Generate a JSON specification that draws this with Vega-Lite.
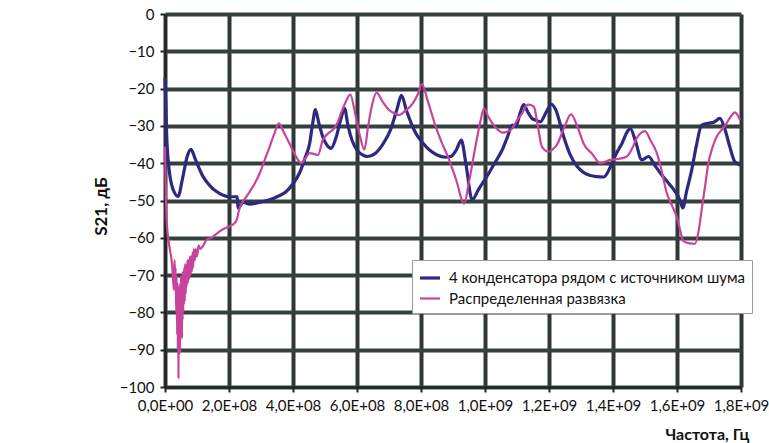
{
  "$schema": "https://vega.github.io/schema/vega-lite/v6.json",
  "width": 576,
  "height": 373,
  "autosize": {"type": "none"},
  "padding": {"left": 165, "top": 14, "right": 28, "bottom": 56},
  "config": {
    "font": "Lato",
    "view": {"stroke": null, "fill": null},
    "legend": {
      "orient": "none",
      "legendX": 247,
      "legendY": 246,
      "padding": 6,
      "strokeColor": "#9a9a9a",
      "fillColor": "white",
      "symbolType": "stroke",
      "symbolSize": 400,
      "symbolStrokeWidth": 3,
      "labelFont": "Lato",
      "labelFontSize": 15,
      "labelColor": "#111",
      "labelLimit": 400,
      "labelOffset": 7,
      "rowPadding": 1
    }
  },
  "data": {
    "values": [
      {"s": "4 конденсатора рядом с источником шума", "f": 0.00e8, "v": -17},
      {"s": "4 конденсатора рядом с источником шума", "f": 0.02e8, "v": -22},
      {"s": "4 конденсатора рядом с источником шума", "f": 0.05e8, "v": -32},
      {"s": "4 конденсатора рядом с источником шума", "f": 0.12e8, "v": -41},
      {"s": "4 конденсатора рядом с источником шума", "f": 0.25e8, "v": -47},
      {"s": "4 конденсатора рядом с источником шума", "f": 0.41e8, "v": -48.9},
      {"s": "4 конденсатора рядом с источником шума", "f": 0.55e8, "v": -44},
      {"s": "4 конденсатора рядом с источником шума", "f": 0.70e8, "v": -38},
      {"s": "4 конденсатора рядом с источником шума", "f": 0.81e8, "v": -36.3},
      {"s": "4 конденсатора рядом с источником шума", "f": 0.95e8, "v": -39},
      {"s": "4 конденсатора рядом с источником шума", "f": 1.19e8, "v": -43.6},
      {"s": "4 конденсатора рядом с источником шума", "f": 1.40e8, "v": -46},
      {"s": "4 конденсатора рядом с источником шума", "f": 1.61e8, "v": -47.6},
      {"s": "4 конденсатора рядом с источником шума", "f": 1.80e8, "v": -48.5},
      {"s": "4 конденсатора рядом с источником шума", "f": 2.02e8, "v": -49},
      {"s": "4 конденсатора рядом с источником шума", "f": 2.26e8, "v": -49},
      {"s": "4 конденсатора рядом с источником шума", "f": 2.28e8, "v": -52},
      {"s": "4 конденсатора рядом с источником шума", "f": 2.45e8, "v": -50.5},
      {"s": "4 конденсатора рядом с источником шума", "f": 2.65e8, "v": -51},
      {"s": "4 конденсатора рядом с источником шума", "f": 2.95e8, "v": -50.5},
      {"s": "4 конденсатора рядом с источником шума", "f": 3.27e8, "v": -49.8},
      {"s": "4 конденсатора рядом с источником шума", "f": 3.55e8, "v": -48.8},
      {"s": "4 конденсатора рядом с источником шума", "f": 3.79e8, "v": -47.6},
      {"s": "4 конденсатора рядом с источником шума", "f": 4.00e8, "v": -45.5},
      {"s": "4 конденсатора рядом с источником шума", "f": 4.20e8, "v": -42.7},
      {"s": "4 конденсатора рядом с источником шума", "f": 4.38e8, "v": -38.5},
      {"s": "4 конденсатора рядом с источником шума", "f": 4.52e8, "v": -34.7},
      {"s": "4 конденсатора рядом с источником шума", "f": 4.62e8, "v": -29},
      {"s": "4 конденсатора рядом с источником шума", "f": 4.70e8, "v": -25.6},
      {"s": "4 конденсатора рядом с источником шума", "f": 4.80e8, "v": -29},
      {"s": "4 конденсатора рядом с источником шума", "f": 4.93e8, "v": -32.9},
      {"s": "4 конденсатора рядом с источником шума", "f": 5.05e8, "v": -35},
      {"s": "4 конденсатора рядом с источником шума", "f": 5.19e8, "v": -36},
      {"s": "4 конденсатора рядом с источником шума", "f": 5.35e8, "v": -33},
      {"s": "4 конденсатора рядом с источником шума", "f": 5.50e8, "v": -28},
      {"s": "4 конденсатора рядом с источником шума", "f": 5.61e8, "v": -25.3},
      {"s": "4 конденсатора рядом с источником шума", "f": 5.72e8, "v": -30},
      {"s": "4 конденсатора рядом с источником шума", "f": 5.85e8, "v": -34},
      {"s": "4 конденсатора рядом с источником шума", "f": 6.00e8, "v": -36.5},
      {"s": "4 конденсатора рядом с источником шума", "f": 6.18e8, "v": -37.8},
      {"s": "4 конденсатора рядом с источником шума", "f": 6.33e8, "v": -38.2},
      {"s": "4 конденсатора рядом с источником шума", "f": 6.55e8, "v": -37.5},
      {"s": "4 конденсатора рядом с источником шума", "f": 6.80e8, "v": -35},
      {"s": "4 конденсатора рядом с источником шума", "f": 7.05e8, "v": -31},
      {"s": "4 конденсатора рядом с источником шума", "f": 7.25e8, "v": -25.5},
      {"s": "4 конденсатора рядом с источником шума", "f": 7.39e8, "v": -21.8},
      {"s": "4 конденсатора рядом с источником шума", "f": 7.55e8, "v": -26},
      {"s": "4 конденсатора рядом с источником шума", "f": 7.84e8, "v": -32},
      {"s": "4 конденсатора рядом с источником шума", "f": 8.05e8, "v": -34.5},
      {"s": "4 конденсатора рядом с источником шума", "f": 8.26e8, "v": -36.4},
      {"s": "4 конденсатора рядом с источником шума", "f": 8.50e8, "v": -37.8},
      {"s": "4 конденсатора рядом с источником шума", "f": 8.78e8, "v": -38.4},
      {"s": "4 конденсатора рядом с источником шума", "f": 8.93e8, "v": -38.2},
      {"s": "4 конденсатора рядом с источником шума", "f": 9.10e8, "v": -36.5},
      {"s": "4 конденсатора рядом с источником шума", "f": 9.26e8, "v": -33.8},
      {"s": "4 конденсатора рядом с источником шума", "f": 9.40e8, "v": -40},
      {"s": "4 конденсатора рядом с источником шума", "f": 9.60e8, "v": -49.8},
      {"s": "4 конденсатора рядом с источником шума", "f": 9.80e8, "v": -47},
      {"s": "4 конденсатора рядом с источником шума", "f": 10.12e8, "v": -42.7},
      {"s": "4 конденсатора рядом с источником шума", "f": 10.30e8, "v": -40},
      {"s": "4 конденсатора рядом с источником шума", "f": 10.54e8, "v": -36.4},
      {"s": "4 конденсатора рядом с источником шума", "f": 10.70e8, "v": -33},
      {"s": "4 конденсатора рядом с источником шума", "f": 10.85e8, "v": -29.8},
      {"s": "4 конденсатора рядом с источником шума", "f": 10.96e8, "v": -30.2},
      {"s": "4 конденсатора рядом с источником шума", "f": 11.10e8, "v": -26.5},
      {"s": "4 конденсатора рядом с источником шума", "f": 11.21e8, "v": -24.3},
      {"s": "4 конденсатора рядом с источником шума", "f": 11.35e8, "v": -26.5},
      {"s": "4 конденсатора рядом с источником шума", "f": 11.47e8, "v": -28},
      {"s": "4 конденсатора рядом с источником шума", "f": 11.60e8, "v": -28.5},
      {"s": "4 конденсатора рядом с источником шума", "f": 11.73e8, "v": -28.9},
      {"s": "4 конденсатора рядом с источником шума", "f": 11.90e8, "v": -26.5},
      {"s": "4 конденсатора рядом с источником шума", "f": 12.08e8, "v": -24.2},
      {"s": "4 конденсатора рядом с источником шума", "f": 12.20e8, "v": -25.5},
      {"s": "4 конденсатора рядом с источником шума", "f": 12.46e8, "v": -32.9},
      {"s": "4 конденсатора рядом с источником шума", "f": 12.65e8, "v": -37.5},
      {"s": "4 конденсатора рядом с источником шума", "f": 12.88e8, "v": -40.9},
      {"s": "4 конденсатора рядом с источником шума", "f": 13.10e8, "v": -42.6},
      {"s": "4 конденсатора рядом с источником шума", "f": 13.29e8, "v": -43.3},
      {"s": "4 конденсатора рядом с источником шума", "f": 13.50e8, "v": -43.6},
      {"s": "4 конденсатора рядом с источником шума", "f": 13.71e8, "v": -43.7},
      {"s": "4 конденсатора рядом с источником шума", "f": 13.97e8, "v": -40},
      {"s": "4 конденсатора рядом с источником шума", "f": 14.10e8, "v": -37.5},
      {"s": "4 конденсатора рядом с источником шума", "f": 14.28e8, "v": -34.7},
      {"s": "4 конденсатора рядом с источником шума", "f": 14.45e8, "v": -31.5},
      {"s": "4 конденсатора рядом с источником шума", "f": 14.54e8, "v": -30.7},
      {"s": "4 конденсатора рядом с источником шума", "f": 14.70e8, "v": -34},
      {"s": "4 конденсатора рядом с источником шума", "f": 14.90e8, "v": -39.1},
      {"s": "4 конденсатора рядом с источником шума", "f": 15.11e8, "v": -38.2},
      {"s": "4 конденсатора рядом с источником шума", "f": 15.30e8, "v": -40.5},
      {"s": "4 конденсатора рядом с источником шума", "f": 15.52e8, "v": -43.1},
      {"s": "4 конденсатора рядом с источником шума", "f": 15.75e8, "v": -45.5},
      {"s": "4 конденсатора рядом с источником шума", "f": 15.94e8, "v": -47.6},
      {"s": "4 конденсатора рядом с источником шума", "f": 16.10e8, "v": -50},
      {"s": "4 конденсатора рядом с источником шума", "f": 16.18e8, "v": -52},
      {"s": "4 конденсатора рядом с источником шума", "f": 16.30e8, "v": -47.5},
      {"s": "4 конденсатора рядом с источником шума", "f": 16.46e8, "v": -41.8},
      {"s": "4 конденсатора рядом с источником шума", "f": 16.60e8, "v": -35.5},
      {"s": "4 конденсатора рядом с источником шума", "f": 16.77e8, "v": -29.8},
      {"s": "4 конденсатора рядом с источником шума", "f": 16.98e8, "v": -29.3},
      {"s": "4 конденсатора рядом с источником шума", "f": 17.15e8, "v": -29},
      {"s": "4 конденсатора рядом с источником шума", "f": 17.34e8, "v": -28},
      {"s": "4 конденсатора рядом с источником шума", "f": 17.50e8, "v": -31},
      {"s": "4 конденсатора рядом с источником шума", "f": 17.65e8, "v": -35.6},
      {"s": "4 конденсатора рядом с источником шума", "f": 17.80e8, "v": -39.5},
      {"s": "4 конденсатора рядом с источником шума", "f": 17.97e8, "v": -40.5},
      {"s": "Распределенная развязка", "f": 0.00e8, "v": -35.5},
      {"s": "Распределенная развязка", "f": 0.02e8, "v": -45},
      {"s": "Распределенная развязка", "f": 0.05e8, "v": -55},
      {"s": "Распределенная развязка", "f": 0.10e8, "v": -60},
      {"s": "Распределенная развязка", "f": 0.15e8, "v": -63},
      {"s": "Распределенная развязка", "f": 0.22e8, "v": -67},
      {"s": "Распределенная развязка", "f": 0.28e8, "v": -74},
      {"s": "Распределенная развязка", "f": 0.30e8, "v": -66},
      {"s": "Распределенная развязка", "f": 0.32e8, "v": -72},
      {"s": "Распределенная развязка", "f": 0.33e8, "v": -68},
      {"s": "Распределенная развязка", "f": 0.35e8, "v": -80},
      {"s": "Распределенная развязка", "f": 0.36e8, "v": -70},
      {"s": "Распределенная развязка", "f": 0.38e8, "v": -86},
      {"s": "Распределенная развязка", "f": 0.39e8, "v": -72},
      {"s": "Распределенная развязка", "f": 0.40e8, "v": -90},
      {"s": "Распределенная развязка", "f": 0.41e8, "v": -75},
      {"s": "Распределенная развязка", "f": 0.42e8, "v": -97.5},
      {"s": "Распределенная развязка", "f": 0.43e8, "v": -80},
      {"s": "Распределенная развязка", "f": 0.44e8, "v": -73},
      {"s": "Распределенная развязка", "f": 0.45e8, "v": -88},
      {"s": "Распределенная развязка", "f": 0.46e8, "v": -76},
      {"s": "Распределенная развязка", "f": 0.47e8, "v": -91},
      {"s": "Распределенная развязка", "f": 0.48e8, "v": -72},
      {"s": "Распределенная развязка", "f": 0.49e8, "v": -86},
      {"s": "Распределенная развязка", "f": 0.50e8, "v": -70},
      {"s": "Распределенная развязка", "f": 0.51e8, "v": -84},
      {"s": "Распределенная развязка", "f": 0.52e8, "v": -74},
      {"s": "Распределенная развязка", "f": 0.53e8, "v": -87},
      {"s": "Распределенная развязка", "f": 0.54e8, "v": -71},
      {"s": "Распределенная развязка", "f": 0.55e8, "v": -82},
      {"s": "Распределенная развязка", "f": 0.56e8, "v": -69},
      {"s": "Распределенная развязка", "f": 0.57e8, "v": -80},
      {"s": "Распределенная развязка", "f": 0.58e8, "v": -70},
      {"s": "Распределенная развязка", "f": 0.59e8, "v": -78},
      {"s": "Распределенная развязка", "f": 0.60e8, "v": -68},
      {"s": "Распределенная развязка", "f": 0.62e8, "v": -77},
      {"s": "Распределенная развязка", "f": 0.63e8, "v": -67},
      {"s": "Распределенная развязка", "f": 0.65e8, "v": -75},
      {"s": "Распределенная развязка", "f": 0.66e8, "v": -68},
      {"s": "Распределенная развязка", "f": 0.68e8, "v": -73},
      {"s": "Распределенная развязка", "f": 0.70e8, "v": -66},
      {"s": "Распределенная развязка", "f": 0.72e8, "v": -72},
      {"s": "Распределенная развязка", "f": 0.74e8, "v": -66},
      {"s": "Распределенная развязка", "f": 0.76e8, "v": -71},
      {"s": "Распределенная развязка", "f": 0.78e8, "v": -65},
      {"s": "Распределенная развязка", "f": 0.80e8, "v": -70},
      {"s": "Распределенная развязка", "f": 0.82e8, "v": -65},
      {"s": "Распределенная развязка", "f": 0.84e8, "v": -69},
      {"s": "Распределенная развязка", "f": 0.86e8, "v": -64},
      {"s": "Распределенная развязка", "f": 0.88e8, "v": -68},
      {"s": "Распределенная развязка", "f": 0.90e8, "v": -63},
      {"s": "Распределенная развязка", "f": 0.93e8, "v": -66},
      {"s": "Распределенная развязка", "f": 0.96e8, "v": -63},
      {"s": "Распределенная развязка", "f": 1.00e8, "v": -65},
      {"s": "Распределенная развязка", "f": 1.05e8, "v": -62},
      {"s": "Распределенная развязка", "f": 1.10e8, "v": -63},
      {"s": "Распределенная развязка", "f": 1.20e8, "v": -62},
      {"s": "Распределенная развязка", "f": 1.30e8, "v": -60.5},
      {"s": "Распределенная развязка", "f": 1.45e8, "v": -60},
      {"s": "Распределенная развязка", "f": 1.60e8, "v": -59},
      {"s": "Распределенная развязка", "f": 1.75e8, "v": -58},
      {"s": "Распределенная развязка", "f": 2.02e8, "v": -56.9},
      {"s": "Распределенная развязка", "f": 2.18e8, "v": -56},
      {"s": "Распределенная развязка", "f": 2.25e8, "v": -55},
      {"s": "Распределенная развязка", "f": 2.30e8, "v": -53},
      {"s": "Распределенная развязка", "f": 2.40e8, "v": -50.7},
      {"s": "Распределенная развязка", "f": 2.50e8, "v": -49.5},
      {"s": "Распределенная развязка", "f": 2.65e8, "v": -47.6},
      {"s": "Распределенная развязка", "f": 2.80e8, "v": -45.5},
      {"s": "Распределенная развязка", "f": 2.96e8, "v": -42.7},
      {"s": "Распределенная развязка", "f": 3.10e8, "v": -39.5},
      {"s": "Распределенная развязка", "f": 3.27e8, "v": -35.6},
      {"s": "Распределенная развязка", "f": 3.42e8, "v": -32},
      {"s": "Распределенная развязка", "f": 3.56e8, "v": -29.3},
      {"s": "Распределенная развязка", "f": 3.70e8, "v": -31.5},
      {"s": "Распределенная развязка", "f": 3.89e8, "v": -34.7},
      {"s": "Распределенная развязка", "f": 4.05e8, "v": -37.5},
      {"s": "Распределенная развязка", "f": 4.26e8, "v": -40},
      {"s": "Распределенная развязка", "f": 4.40e8, "v": -38.5},
      {"s": "Распределенная развязка", "f": 4.52e8, "v": -37.3},
      {"s": "Распределенная развязка", "f": 4.65e8, "v": -37.5},
      {"s": "Распределенная развязка", "f": 4.78e8, "v": -37.8},
      {"s": "Распределенная развязка", "f": 4.93e8, "v": -33.8},
      {"s": "Распределенная развязка", "f": 5.10e8, "v": -32},
      {"s": "Распределенная развязка", "f": 5.24e8, "v": -31.1},
      {"s": "Распределенная развязка", "f": 5.40e8, "v": -29},
      {"s": "Распределенная развязка", "f": 5.50e8, "v": -26.6},
      {"s": "Распределенная развязка", "f": 5.65e8, "v": -23.5},
      {"s": "Распределенная развязка", "f": 5.79e8, "v": -21.6},
      {"s": "Распределенная развязка", "f": 5.95e8, "v": -27},
      {"s": "Распределенная развязка", "f": 6.10e8, "v": -33},
      {"s": "Распределенная развязка", "f": 6.23e8, "v": -36.4},
      {"s": "Распределенная развязка", "f": 6.35e8, "v": -30},
      {"s": "Распределенная развязка", "f": 6.48e8, "v": -24},
      {"s": "Распределенная развязка", "f": 6.61e8, "v": -21.1},
      {"s": "Распределенная развязка", "f": 6.80e8, "v": -23.5},
      {"s": "Распределенная развязка", "f": 7.01e8, "v": -25.8},
      {"s": "Распределенная развязка", "f": 7.15e8, "v": -26.5},
      {"s": "Распределенная развязка", "f": 7.32e8, "v": -27.1},
      {"s": "Распределенная развязка", "f": 7.50e8, "v": -26},
      {"s": "Распределенная развязка", "f": 7.74e8, "v": -24},
      {"s": "Распределенная развязка", "f": 7.90e8, "v": -21.5},
      {"s": "Распределенная развязка", "f": 8.03e8, "v": -18.8},
      {"s": "Распределенная развязка", "f": 8.20e8, "v": -23},
      {"s": "Распределенная развязка", "f": 8.46e8, "v": -30.2},
      {"s": "Распределенная развязка", "f": 8.65e8, "v": -34.5},
      {"s": "Распределенная развязка", "f": 8.88e8, "v": -39.1},
      {"s": "Распределенная развязка", "f": 9.10e8, "v": -44.5},
      {"s": "Распределенная развязка", "f": 9.35e8, "v": -50.8},
      {"s": "Распределенная развязка", "f": 9.50e8, "v": -45},
      {"s": "Распределенная развязка", "f": 9.70e8, "v": -35.6},
      {"s": "Распределенная развязка", "f": 9.85e8, "v": -29},
      {"s": "Распределенная развязка", "f": 9.97e8, "v": -25.3},
      {"s": "Распределенная развязка", "f": 10.10e8, "v": -27.5},
      {"s": "Распределенная развязка", "f": 10.23e8, "v": -29.3},
      {"s": "Распределенная развязка", "f": 10.40e8, "v": -31},
      {"s": "Распределенная развязка", "f": 10.54e8, "v": -31.8},
      {"s": "Распределенная развязка", "f": 10.70e8, "v": -31.5},
      {"s": "Распределенная развязка", "f": 10.85e8, "v": -30.7},
      {"s": "Распределенная развязка", "f": 11.00e8, "v": -28.5},
      {"s": "Распределенная развязка", "f": 11.16e8, "v": -26.6},
      {"s": "Распределенная развязка", "f": 11.30e8, "v": -24.5},
      {"s": "Распределенная развязка", "f": 11.37e8, "v": -24.3},
      {"s": "Распределенная развязка", "f": 11.53e8, "v": -24.9},
      {"s": "Распределенная развязка", "f": 11.65e8, "v": -30},
      {"s": "Распределенная развязка", "f": 11.78e8, "v": -35.6},
      {"s": "Распределенная развязка", "f": 11.99e8, "v": -36.9},
      {"s": "Распределенная развязка", "f": 12.15e8, "v": -36},
      {"s": "Распределенная развязка", "f": 12.25e8, "v": -35},
      {"s": "Распределенная развязка", "f": 12.45e8, "v": -31},
      {"s": "Распределенная развязка", "f": 12.69e8, "v": -26.9},
      {"s": "Распределенная развязка", "f": 12.90e8, "v": -30.5},
      {"s": "Распределенная развязка", "f": 13.08e8, "v": -34.7},
      {"s": "Распределенная развязка", "f": 13.35e8, "v": -37.5},
      {"s": "Распределенная развязка", "f": 13.60e8, "v": -40},
      {"s": "Распределенная развязка", "f": 13.91e8, "v": -39.1},
      {"s": "Распределенная развязка", "f": 14.20e8, "v": -38.8},
      {"s": "Распределенная развязка", "f": 14.43e8, "v": -38.2},
      {"s": "Распределенная развязка", "f": 14.60e8, "v": -36},
      {"s": "Распределенная развязка", "f": 14.74e8, "v": -33.3},
      {"s": "Распределенная развязка", "f": 15.00e8, "v": -31.4},
      {"s": "Распределенная развязка", "f": 15.18e8, "v": -34},
      {"s": "Распределенная развязка", "f": 15.37e8, "v": -37.3},
      {"s": "Распределенная развязка", "f": 15.52e8, "v": -42},
      {"s": "Распределенная развязка", "f": 15.68e8, "v": -48},
      {"s": "Распределенная развязка", "f": 15.85e8, "v": -51.5},
      {"s": "Распределенная развязка", "f": 15.99e8, "v": -54.3},
      {"s": "Распределенная развязка", "f": 16.10e8, "v": -58},
      {"s": "Распределенная развязка", "f": 16.20e8, "v": -60.9},
      {"s": "Распределенная развязка", "f": 16.40e8, "v": -61.5},
      {"s": "Распределенная развязка", "f": 16.56e8, "v": -61.6},
      {"s": "Распределенная развязка", "f": 16.68e8, "v": -58},
      {"s": "Распределенная развязка", "f": 16.77e8, "v": -52.5},
      {"s": "Распределенная развязка", "f": 16.88e8, "v": -46},
      {"s": "Распределенная развязка", "f": 16.98e8, "v": -40},
      {"s": "Распределенная развязка", "f": 17.10e8, "v": -36},
      {"s": "Распределенная развязка", "f": 17.24e8, "v": -32.9},
      {"s": "Распределенная развязка", "f": 17.40e8, "v": -31},
      {"s": "Распределенная развязка", "f": 17.55e8, "v": -29.3},
      {"s": "Распределенная развязка", "f": 17.68e8, "v": -27.5},
      {"s": "Распределенная развязка", "f": 17.81e8, "v": -26.4},
      {"s": "Распределенная развязка", "f": 17.97e8, "v": -28.4}
    ]
  },
  "mark": {"type": "line", "interpolate": "monotone"},
  "encoding": {
    "x": {
      "field": "f",
      "type": "quantitative",
      "scale": {"domain": [0, 1800000000], "nice": false},
      "axis": {
        "values": [0, 200000000, 400000000, 600000000, 800000000, 1000000000, 1200000000, 1400000000, 1600000000, 1800000000],
        "labelExpr": "datum.value == 0 ? '0,0E+00' : replace(format(datum.value / pow(10, floor(log(datum.value) / LN10 + 1e-9)), '.1f'), '.', ',') + 'E+' + (floor(log(datum.value) / LN10 + 1e-9) < 10 ? '0' : '') + floor(log(datum.value) / LN10 + 1e-9)",
        "labelFont": "Lato",
        "labelFontSize": 15,
        "labelColor": "#111",
        "labelPadding": 6,
        "labelFlush": false,
        "labelOverlap": false,
        "grid": true,
        "gridColor": "#2e3836",
        "gridWidth": 4,
        "gridOpacity": 1,
        "domainColor": "#222",
        "domainWidth": 2,
        "tickColor": "#222",
        "tickWidth": 2,
        "tickSize": 5,
        "title": "Частота, Гц",
        "titleFont": "Lato",
        "titleFontSize": 16,
        "titleFontWeight": "bold",
        "titleColor": "#111",
        "titleAnchor": "end",
        "titleAlign": "right",
        "titleX": 584,
        "titleY": 47,
        "titleBaseline": "middle"
      }
    },
    "y": {
      "field": "v",
      "type": "quantitative",
      "scale": {"domain": [-100, 0], "nice": false},
      "axis": {
        "values": [-100, -90, -80, -70, -60, -50, -40, -30, -20, -10, 0],
        "labelFont": "Lato",
        "labelFontSize": 15,
        "labelColor": "#111",
        "labelPadding": 6,
        "grid": true,
        "gridColor": "#35403e",
        "gridWidth": 4,
        "gridOpacity": 1,
        "domainColor": "#222",
        "domainWidth": 2,
        "tickColor": "#222",
        "tickWidth": 2,
        "tickSize": 5,
        "title": "S21, дБ",
        "titleFont": "Lato",
        "titleFontSize": 17,
        "titleFontWeight": "bold",
        "titleColor": "#111",
        "titleX": -64,
        "titleY": 192,
        "titleAngle": 270,
        "titleAlign": "center",
        "titleBaseline": "middle"
      }
    },
    "color": {
      "field": "s",
      "type": "nominal",
      "scale": {
        "domain": ["4 конденсатора рядом с источником шума", "Распределенная развязка"],
        "range": ["#2c2a80", "#c8449c"]
      },
      "legend": {"title": null}
    },
    "strokeWidth": {
      "field": "s",
      "type": "nominal",
      "scale": {
        "domain": ["4 конденсатора рядом с источником шума", "Распределенная развязка"],
        "range": [3.2, 2.2]
      },
      "legend": null
    }
  }
}
